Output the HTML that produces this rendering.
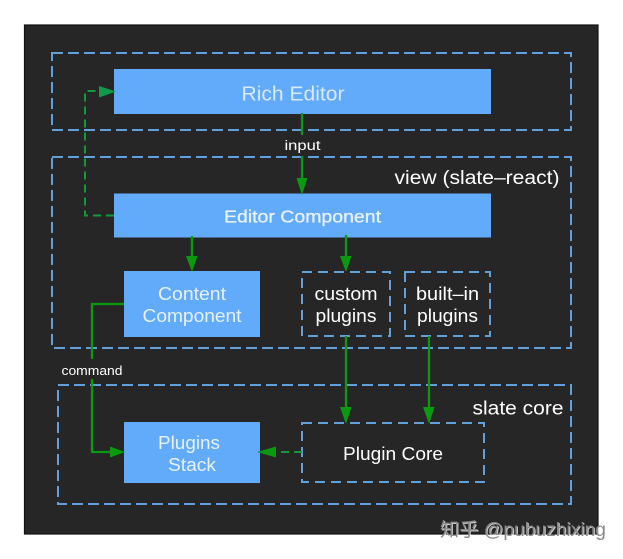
<!DOCTYPE html>
<html>
<head>
<meta charset="utf-8">
<style>
html,body{margin:0;padding:0;background:#fff;width:623px;height:559px;overflow:hidden}
svg{display:block}
text{font-family:"Liberation Sans","Noto Sans CJK SC",sans-serif;text-anchor:middle}
.d{fill:none;stroke:#62a0dc;stroke-width:2;stroke-dasharray:11 5}
.e{fill:none;stroke:#62a0dc;stroke-width:2;stroke-dasharray:10 6}
.b{fill:#62aafa}
.g{fill:none;stroke:#0a990f;stroke-width:2.300}
.gd{fill:none;stroke:#0f9a3c;stroke-width:2;stroke-dasharray:8 5}
.ah{fill:#0a990f}
.w{fill:#fff}
.l{fill:#e6f2ff}
</style>
</head>
<body>
<svg width="623" height="559" viewBox="0 0 623 559" xmlns="http://www.w3.org/2000/svg">
<rect x="0" y="0" width="623" height="559" fill="#fff"/>
<rect x="24.500" y="25" width="573.500" height="509" fill="#262626" stroke="#111" stroke-width="1.200"/>

<rect class="d" x="52" y="53" width="519" height="77"/>
<rect class="d" x="52" y="157" width="519" height="191"/>
<rect class="d" x="58" y="385" width="513" height="119"/>

<rect class="b" x="114" y="69" width="377" height="45"/>
<rect class="b" x="114" y="193.500" width="377" height="44"/>
<rect class="b" x="124" y="271" width="136" height="66"/>
<rect class="b" x="124" y="422" width="136" height="61"/>

<rect class="e" x="302" y="272" width="88" height="64"/>
<rect class="e" x="405" y="272" width="85" height="64"/>
<rect class="e" x="302" y="423" width="182" height="59"/>

<path class="g" d="M302 113V135"/>
<path class="g" d="M302 156V182"/>
<path class="ah" d="M296.500 178H307.500L302 195Z"/>
<path class="g" d="M192 236V258"/>
<path class="ah" d="M186 256H197.500L192 272Z"/>
<path class="g" d="M346 235V258"/>
<path class="ah" d="M340 256H351.500L346 272Z"/>
<path class="g" d="M346 336V410"/>
<path class="ah" d="M340 407H351.500L346 424Z"/>
<path class="g" d="M429 336V410"/>
<path class="ah" d="M423 407H434.500L429 424Z"/>
<path class="g" d="M124 304H92V359"/>
<path class="g" d="M92 379V452H112"/>
<path class="ah" d="M110 446.500V457.500L125 452Z"/>
<path class="gd" d="M114 215.500H85V91H100"/>
<path d="M99 86V97.500L116 91.500Z" fill="#0f9a4c"/>
<path class="gd" d="M302 452H275"/>
<path class="ah" d="M276 446.500V457.500L257 452Z"/>

<text x="293" y="100.500" font-size="20" fill="#d8eaff" textLength="103" lengthAdjust="spacingAndGlyphs">Rich Editor</text>
<text class="l" x="302.500" y="222.500" font-size="17.500" textLength="157" lengthAdjust="spacingAndGlyphs" style="stroke:#e6f2ff;stroke-width:.35">Editor Component</text>
<text class="w" x="302.500" y="150" font-size="13.500" textLength="36" lengthAdjust="spacingAndGlyphs">input</text>
<text class="w" x="92" y="375" font-size="13" textLength="61" lengthAdjust="spacingAndGlyphs">command</text>
<text class="w" x="477" y="184" font-size="19" textLength="165" lengthAdjust="spacingAndGlyphs">view (slate–react)</text>
<text class="w" x="518" y="414.500" font-size="19" textLength="91" lengthAdjust="spacingAndGlyphs">slate core</text>
<text class="l" x="192" y="300" font-size="18" textLength="68" lengthAdjust="spacingAndGlyphs">Content</text>
<text class="l" x="192" y="322" font-size="18" textLength="99" lengthAdjust="spacingAndGlyphs">Component</text>
<text class="l" x="189" y="449" font-size="18" textLength="62" lengthAdjust="spacingAndGlyphs">Plugins</text>
<text class="l" x="192" y="471" font-size="18" textLength="48" lengthAdjust="spacingAndGlyphs">Stack</text>
<text class="w" x="346" y="300" font-size="18" textLength="63" lengthAdjust="spacingAndGlyphs">custom</text>
<text class="w" x="346" y="322" font-size="18" textLength="61" lengthAdjust="spacingAndGlyphs">plugins</text>
<text class="w" x="447.500" y="300" font-size="18" textLength="63" lengthAdjust="spacingAndGlyphs">built–in</text>
<text class="w" x="447.500" y="322" font-size="18" textLength="61" lengthAdjust="spacingAndGlyphs">plugins</text>
<text class="w" x="393" y="460" font-size="18" textLength="100" lengthAdjust="spacingAndGlyphs">Plugin Core</text>

<text x="524" y="537" font-size="19" fill="#fff" fill-opacity=".75" textLength="166" lengthAdjust="spacingAndGlyphs">知乎 @pubuzhixing</text>
<text x="523" y="536" font-size="19" fill="#8a8a8a" textLength="166" lengthAdjust="spacingAndGlyphs">知乎 @pubuzhixing</text>
</svg>
</body>
</html>
